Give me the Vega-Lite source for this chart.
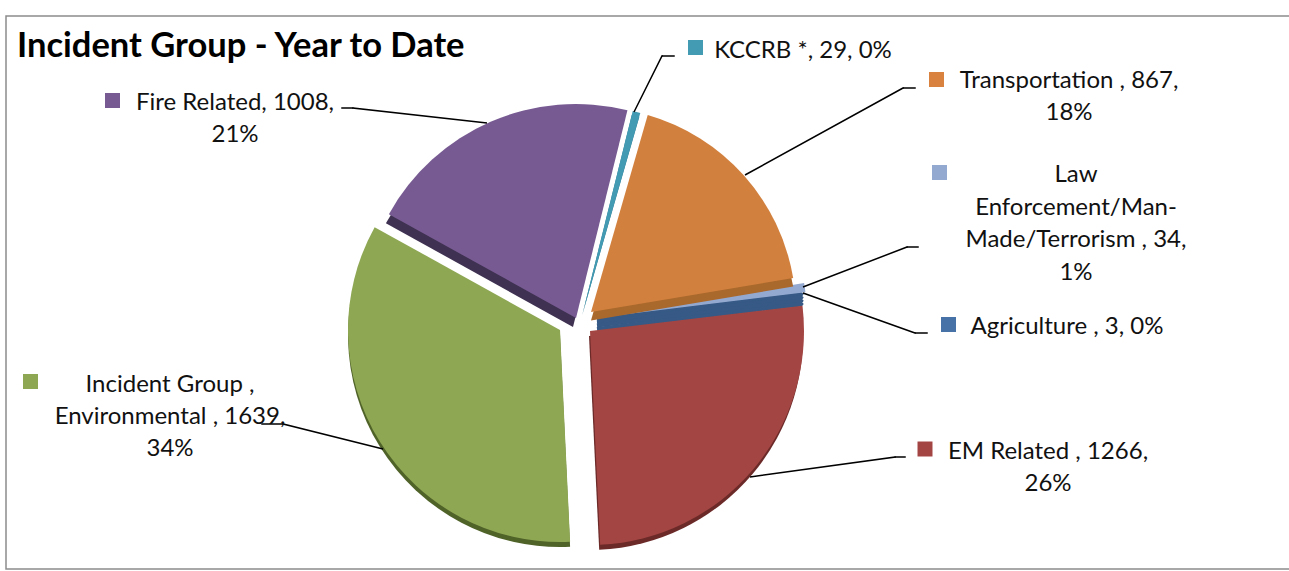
{"$schema":"https://vega.github.io/schema/vega-lite/v6.json","width":1285,"height":553,"autosize":"none","padding":{"left":6,"top":16,"right":0,"bottom":2},"background":"white","view":{"stroke":"#8c8c8c","strokeWidth":1.5,"fill":"white"},"title":{"text":"Incident Group - Year to Date","anchor":"start","frame":"group","dx":11,"dy":52,"font":"Lato","fontSize":34.5,"fontWeight":"bold","color":"#000000"},"data":{"values":[{"group":"Agriculture","value":3,"label":"Agriculture , 3, 0%"},{"group":"EM Related","value":1266,"label":"EM Related , 1266,\n26%"},{"group":"Environmental","value":1639,"label":"Incident Group ,\nEnvironmental , 1639,\n34%"},{"group":"Fire Related","value":1008,"label":"Fire Related, 1008,\n21%"},{"group":"KCCRB","value":29,"label":"KCCRB *, 29, 0%"},{"group":"Transportation","value":867,"label":"Transportation , 867,\n18%"},{"group":"Law Enforcement","value":34,"label":"Law\nEnforcement/Man-\nMade/Terrorism , 34,\n1%"}]},"transform":[{"stack":"value","groupby":[],"as":["s0","s1"]}],"layer":[
{"encoding":{"theta":{"field":"s0","type":"quantitative","scale":{"domain":[0,4846],"range":[1.4486,7.7318]}},"theta2":{"field":"s1"}},"layer":[
{"transform":[{"filter":"datum.group==='Fire Related'"}],"mark":{"type":"arc","radius":214,"xOffset":-75.5,"yOffset":34.5,"fill":"#3f3151"}},
{"transform":[{"filter":"datum.group==='Fire Related'"}],"mark":{"type":"arc","radius":214,"xOffset":-72.5,"yOffset":25.5,"fill":"#775a92"}},
{"transform":[{"filter":"datum.group==='KCCRB'"}],"mark":{"type":"arc","radius":207,"xOffset":-66.5,"yOffset":23.5,"fill":"#2f7a90"}},
{"transform":[{"filter":"datum.group==='KCCRB'"}],"mark":{"type":"arc","radius":207,"xOffset":-65.5,"yOffset":19.5,"fill":"#429ab3"}},
{"transform":[{"filter":"datum.group==='Agriculture'"}],"mark":{"type":"arc","radius":206,"xOffset":-51.5,"yOffset":26.5,"fill":"#365a85","stroke":"#365a85","strokeWidth":4,"strokeJoin":"bevel"}},
{"transform":[{"filter":"datum.group==='Agriculture'"}],"mark":{"type":"arc","radius":206,"xOffset":-51.5,"yOffset":29.8,"fill":"#365a85","stroke":"#365a85","strokeWidth":4,"strokeJoin":"bevel"}},
{"transform":[{"filter":"datum.group==='Agriculture'"}],"mark":{"type":"arc","radius":206,"xOffset":-51.5,"yOffset":33.1,"fill":"#365a85","stroke":"#365a85","strokeWidth":4,"strokeJoin":"bevel"}},
{"transform":[{"filter":"datum.group==='Agriculture'"}],"mark":{"type":"arc","radius":206,"xOffset":-51.5,"yOffset":36.4,"fill":"#365a85","stroke":"#365a85","strokeWidth":4,"strokeJoin":"bevel"}},
{"transform":[{"filter":"datum.group==='Law Enforcement'"}],"mark":{"type":"arc","radius":212,"xOffset":-53.5,"yOffset":25.5,"fill":"#94a9d0"}},
{"transform":[{"filter":"datum.group==='Transportation'"}],"mark":{"type":"arc","radius":205,"xOffset":-57.5,"yOffset":28,"fill":"#a9682c"}},
{"transform":[{"filter":"datum.group==='Transportation'"}],"mark":{"type":"arc","radius":205,"xOffset":-57.5,"yOffset":19.5,"fill":"#d2803e"}},
{"transform":[{"filter":"datum.group==='EM Related'"}],"mark":{"type":"arc","radius":214,"xOffset":-59.5,"yOffset":43.5,"fill":"#6b2a28"}},
{"transform":[{"filter":"datum.group==='EM Related'"}],"mark":{"type":"arc","radius":214,"xOffset":-58.5,"yOffset":38.5,"fill":"#a34543"}},
{"transform":[{"filter":"datum.group==='Environmental'"}],"mark":{"type":"arc","radius":212,"xOffset":-88.5,"yOffset":42.5,"fill":"#4f6228"}},
{"transform":[{"filter":"datum.group==='Environmental'"}],"mark":{"type":"arc","radius":212,"xOffset":-88.5,"yOffset":37.5,"fill":"#8ea753"}}
]},
{"transform":[{"filter":"datum.group==='KCCRB'"}],"mark":{"type":"arc","theta":0.4636,"theta2":0.4637,"radius":62.6,"radius2":0,"xOffset":-14.5,"yOffset":-180.5,"stroke":"#000","strokeWidth":1.5,"fill":null},"encoding":{}},
{"transform":[{"filter":"datum.group==='KCCRB'"}],"mark":{"type":"arc","theta":1.5708,"theta2":1.5709,"radius":12,"radius2":0,"xOffset":13.5,"yOffset":-236.5,"stroke":"#000","strokeWidth":1.5,"fill":null},"encoding":{}},
{"transform":[{"filter":"datum.group==='Transportation'"}],"mark":{"type":"arc","theta":1.0675,"theta2":1.0676,"radius":180.4,"radius2":0,"xOffset":96.5,"yOffset":-117.5,"stroke":"#000","strokeWidth":1.5,"fill":null},"encoding":{}},
{"transform":[{"filter":"datum.group==='Transportation'"}],"mark":{"type":"arc","theta":1.5708,"theta2":1.5709,"radius":12,"radius2":0,"xOffset":254.5,"yOffset":-204.5,"stroke":"#000","strokeWidth":1.5,"fill":null},"encoding":{}},
{"transform":[{"filter":"datum.group==='Law Enforcement'"}],"mark":{"type":"arc","theta":1.2036,"theta2":1.2037,"radius":111.4,"radius2":0,"xOffset":154.5,"yOffset":-5.5,"stroke":"#000","strokeWidth":1.5,"fill":null},"encoding":{}},
{"transform":[{"filter":"datum.group==='Law Enforcement'"}],"mark":{"type":"arc","theta":1.5708,"theta2":1.5709,"radius":11,"radius2":0,"xOffset":258.5,"yOffset":-45.5,"stroke":"#000","strokeWidth":1.5,"fill":null},"encoding":{}},
{"transform":[{"filter":"datum.group==='Agriculture'"}],"mark":{"type":"arc","theta":1.9137,"theta2":1.9138,"radius":118.9,"radius2":0,"xOffset":154.5,"yOffset":0.5,"stroke":"#000","strokeWidth":1.5,"fill":null},"encoding":{}},
{"transform":[{"filter":"datum.group==='Agriculture'"}],"mark":{"type":"arc","theta":1.5708,"theta2":1.5709,"radius":12,"radius2":0,"xOffset":266.5,"yOffset":40.5,"stroke":"#000","strokeWidth":1.5,"fill":null},"encoding":{}},
{"transform":[{"filter":"datum.group==='EM Related'"}],"mark":{"type":"arc","theta":1.4338,"theta2":1.4339,"radius":146.4,"radius2":0,"xOffset":101.5,"yOffset":184.5,"stroke":"#000","strokeWidth":1.5,"fill":null},"encoding":{}},
{"transform":[{"filter":"datum.group==='EM Related'"}],"mark":{"type":"arc","theta":1.5708,"theta2":1.5709,"radius":10,"radius2":0,"xOffset":246.5,"yOffset":164.5,"stroke":"#000","strokeWidth":1.5,"fill":null},"encoding":{}},
{"transform":[{"filter":"datum.group==='Environmental'"}],"mark":{"type":"arc","theta":-1.3258,"theta2":-1.3257,"radius":103.1,"radius2":0,"xOffset":-265.5,"yOffset":156.5,"stroke":"#000","strokeWidth":1.5,"fill":null},"encoding":{}},
{"transform":[{"filter":"datum.group==='Environmental'"}],"mark":{"type":"arc","theta":-1.5708,"theta2":-1.5707,"radius":21,"radius2":0,"xOffset":-365.5,"yOffset":131.5,"stroke":"#000","strokeWidth":1.5,"fill":null},"encoding":{}},
{"transform":[{"filter":"datum.group==='Fire Related'"}],"mark":{"type":"arc","theta":-1.4593,"theta2":-1.4592,"radius":134.8,"radius2":0,"xOffset":-161.5,"yOffset":-169.5,"stroke":"#000","strokeWidth":1.5,"fill":null},"encoding":{}},
{"transform":[{"filter":"datum.group==='Fire Related'"}],"mark":{"type":"arc","theta":-1.5708,"theta2":-1.5707,"radius":11,"radius2":0,"xOffset":-295.5,"yOffset":-184.5,"stroke":"#000","strokeWidth":1.5,"fill":null},"encoding":{}},
{"transform":[{"filter":"datum.group==='KCCRB'"}],"mark":{"type":"point","shape":"square","filled":true,"opacity":1,"size":225,"color":"#429ab3","xOffset":47,"yOffset":-245},"encoding":{}},
{"transform":[{"filter":"datum.group==='Transportation'"}],"mark":{"type":"point","shape":"square","filled":true,"opacity":1,"size":225,"color":"#d9813e","xOffset":288,"yOffset":-213},"encoding":{}},
{"transform":[{"filter":"datum.group==='Law Enforcement'"}],"mark":{"type":"point","shape":"square","filled":true,"opacity":1,"size":225,"color":"#94a9d0","xOffset":291,"yOffset":-120},"encoding":{}},
{"transform":[{"filter":"datum.group==='Agriculture'"}],"mark":{"type":"point","shape":"square","filled":true,"opacity":1,"size":225,"color":"#4672a8","xOffset":300,"yOffset":32},"encoding":{}},
{"transform":[{"filter":"datum.group==='EM Related'"}],"mark":{"type":"point","shape":"square","filled":true,"opacity":1,"size":225,"color":"#a34543","xOffset":276.5,"yOffset":156.5},"encoding":{}},
{"transform":[{"filter":"datum.group==='Environmental'"}],"mark":{"type":"point","shape":"square","filled":true,"opacity":1,"size":225,"color":"#8ea753","xOffset":-618,"yOffset":89},"encoding":{}},
{"transform":[{"filter":"datum.group==='Fire Related'"}],"mark":{"type":"point","shape":"square","filled":true,"opacity":1,"size":225,"color":"#775a92","xOffset":-536,"yOffset":-192},"encoding":{}},
{"transform":[{"filter":"datum.group==='KCCRB'"}],"mark":{"type":"text","font":"Lato","fontSize":24,"lineHeight":32,"lineBreak":"\n","align":"center","baseline":"middle","color":"#111","xOffset":154.5,"yOffset":-241.5},"encoding":{"text":{"field":"label"}}},
{"transform":[{"filter":"datum.group==='Transportation'"}],"mark":{"type":"text","font":"Lato","fontSize":24,"lineHeight":32,"lineBreak":"\n","align":"center","baseline":"middle","color":"#111","xOffset":420.5,"yOffset":-211.5},"encoding":{"text":{"field":"label"}}},
{"transform":[{"filter":"datum.group==='Law Enforcement'"}],"mark":{"type":"text","font":"Lato","fontSize":24,"lineHeight":32.7,"lineBreak":"\n","align":"center","baseline":"middle","color":"#111","xOffset":427.5,"yOffset":-117.5},"encoding":{"text":{"field":"label"}}},
{"transform":[{"filter":"datum.group==='Agriculture'"}],"mark":{"type":"text","font":"Lato","fontSize":24,"lineHeight":32,"lineBreak":"\n","align":"center","baseline":"middle","color":"#111","xOffset":418.5,"yOffset":34.5},"encoding":{"text":{"field":"label"}}},
{"transform":[{"filter":"datum.group==='EM Related'"}],"mark":{"type":"text","font":"Lato","fontSize":24,"lineHeight":32,"lineBreak":"\n","align":"center","baseline":"middle","color":"#111","xOffset":399.5,"yOffset":159.5},"encoding":{"text":{"field":"label"}}},
{"transform":[{"filter":"datum.group==='Environmental'"}],"mark":{"type":"text","font":"Lato","fontSize":24,"lineHeight":32,"lineBreak":"\n","align":"center","baseline":"middle","color":"#111","xOffset":-478.5,"yOffset":92.5},"encoding":{"text":{"field":"label"}}},
{"transform":[{"filter":"datum.group==='Fire Related'"}],"mark":{"type":"text","font":"Lato","fontSize":24,"lineHeight":32,"lineBreak":"\n","align":"center","baseline":"middle","color":"#111","xOffset":-413.5,"yOffset":-189.5},"encoding":{"text":{"field":"label"}}}
]}
